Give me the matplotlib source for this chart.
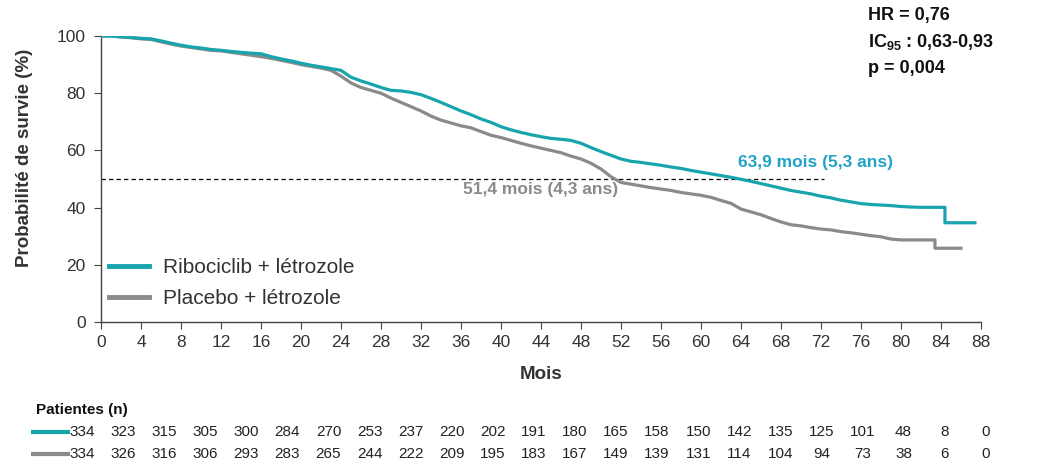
import matplotlib
matplotlib.use("Agg")
import matplotlib.pyplot as plt

plt.rcParams["font.family"] = ["Liberation Sans", "DejaVu Sans"]
plt.rcParams["mathtext.fontset"] = "custom"
plt.rcParams["mathtext.rm"] = "Liberation Sans"
plt.rcParams["mathtext.bf"] = "Liberation Sans:bold"

TEAL = "#17a4ad"
TEAL_TXT = "#22a3c4"
GRAY = "#8a8a8a"
TXT = "#333333"

# Kaplan-Meier readings (month, survival %)
ribo_months = [0, 1, 2, 3, 4, 5, 6, 7, 8, 9, 10, 11, 12, 13, 14, 15, 16, 17, 18, 19,
               20, 21, 22, 23, 24, 25, 26, 27, 28, 29, 30, 31, 32, 33, 34, 35, 36, 37,
               38, 39, 40, 41, 42, 43, 44, 45, 46, 47, 48, 49, 50, 51, 52, 53, 54, 55,
               56, 57, 58, 59, 60, 61, 62, 63, 64, 65, 66, 67, 68, 69, 70, 71, 72, 73,
               74, 75, 76, 77, 78, 79, 80, 81, 82, 83, 84.4, 84.4, 87.4]
ribo_surv = [100, 100, 99.7, 99.5, 99.2, 99.0, 98.3, 97.5, 96.8, 96.2, 95.8, 95.3, 95.0,
             94.6, 94.3, 94.0, 93.8, 92.8, 92.0, 91.3, 90.5, 89.8, 89.2, 88.6, 88.0,
             85.6, 84.3, 83.2, 82.0, 81.0, 80.8, 80.3, 79.5, 78.2, 76.8, 75.3, 73.8,
             72.5, 71.0, 69.8, 68.3, 67.2, 66.3, 65.5, 64.8, 64.2, 63.9, 63.5, 62.5,
             61.0, 59.6, 58.3, 57.0, 56.2, 55.8, 55.3, 54.8, 54.2, 53.7, 53.0, 52.4,
             51.8, 51.2, 50.6, 49.9, 49.2, 48.4, 47.6, 46.8, 46.0, 45.4, 44.8, 44.0,
             43.4, 42.6, 42.0, 41.4, 41.1, 40.9, 40.7, 40.4, 40.2, 40.1, 40.1, 40.1,
             34.7, 34.7]

plac_months = [0, 1, 2, 3, 4, 5, 6, 7, 8, 9, 10, 11, 12, 13, 14, 15, 16, 17, 18, 19,
               20, 21, 22, 23, 24, 25, 26, 27, 28, 29, 30, 31, 32, 33, 34, 35, 36, 37,
               38, 39, 40, 41, 42, 43, 44, 45, 46, 47, 48, 49, 50, 51, 52, 53, 54, 55,
               56, 57, 58, 59, 60, 61, 62, 63, 64, 65, 66, 67, 68, 69, 70, 71, 72, 73,
               74, 75, 76, 77, 78, 79, 80, 81, 82, 83.4, 83.4, 86]
plac_surv = [100, 100, 99.7, 99.4, 99.0, 98.8, 98.0, 97.2, 96.5, 96.0, 95.5, 95.0, 94.8,
             94.3, 93.8, 93.3, 92.8, 92.2, 91.5, 90.8, 90.0, 89.4, 88.8, 88.0, 86.0,
             83.6, 82.0, 81.0, 80.0, 78.3, 76.8, 75.3, 73.8, 72.0, 70.6, 69.6, 68.6,
             67.9, 66.6, 65.3, 64.5, 63.5, 62.5, 61.6, 60.8, 60.0, 59.2, 58.0, 57.0,
             55.5, 53.5, 50.8, 48.8, 48.2, 47.6, 47.0, 46.5, 46.0, 45.3, 44.8, 44.3,
             43.6, 42.5, 41.5, 39.5, 38.5, 37.5, 36.2, 35.0, 34.0, 33.6, 33.0, 32.5,
             32.2, 31.6, 31.2, 30.7, 30.2, 29.8, 29.0, 28.7, 28.7, 28.7, 28.7, 25.8,
             25.8]

risk_months = list(range(0, 89, 4))
ribo_risk = [334, 323, 315, 305, 300, 284, 270, 253, 237, 220, 202, 191, 180, 165, 158,
             150, 142, 135, 125, 101, 48, 8, 0]
plac_risk = [334, 326, 316, 306, 293, 283, 265, 244, 222, 209, 195, 183, 167, 149, 139,
             131, 114, 104, 94, 73, 38, 6, 0]

ribo_median = 63.9
plac_median = 51.4

fig = plt.figure(figsize=(10.42, 4.66), dpi=100)
ax = fig.add_axes([0.0969, 0.309, 0.8445, 0.6137])

ax.plot(ribo_months, ribo_surv, color=TEAL, lw=2.3, zorder=3,
        label="Ribociclib + létrozole")
ax.plot(plac_months, plac_surv, color=GRAY, lw=2.3, zorder=2,
        label="Placebo + létrozole")
ax.plot([0, 72.3], [50, 50], ls=(0, (3.5, 2.5)), color="black", lw=0.9, zorder=1)

ax.text(ribo_median - 0.2, 55.6, "63,9 mois (5,3 ans)", color=TEAL_TXT, fontsize=12.5,
        fontweight="bold", ha="left", va="center")
ax.text(plac_median + 0.3, 46.2, "51,4 mois (4,3 ans)", color=GRAY, fontsize=12.5,
        fontweight="bold", ha="right", va="center")

ax.set_xlim(0, 88)
ax.set_ylim(0, 100)
ax.set_xticks(range(0, 89, 4))
ax.set_yticks(range(0, 101, 20))
for s in ["top", "right"]:
    ax.spines[s].set_visible(False)
for s in ["left", "bottom"]:
    ax.spines[s].set_color("#444444")
    ax.spines[s].set_linewidth(1.0)
ax.tick_params(axis="x", direction="out", length=5, colors="#444444",
               labelcolor=TXT, labelsize=12.5, pad=4)
ax.tick_params(axis="y", direction="out", length=5, colors="#444444",
               labelcolor=TXT, labelsize=12.5, pad=6)
ax.set_xlabel("Mois", fontsize=13.5, fontweight="bold", color=TXT, labelpad=12)
ax.set_ylabel("Probabilité de survie (%)", fontsize=13.5, fontweight="bold",
              color=TXT)
ax.yaxis.set_label_coords(-0.077, 0.573)

leg = ax.legend(loc="lower left", bbox_to_anchor=(-0.012, -0.016), frameon=False,
                fontsize=15, handlelength=1.9, handletextpad=0.7,
                labelspacing=0.55, labelcolor=TXT)
for line in leg.get_lines():
    line.set_linewidth(3.5)

fig.text(0.833, 0.967, "HR = 0,76", fontsize=13, fontweight="bold", color="#111111",
         va="center")
fig.text(0.833, 0.91, r"$\mathbf{IC}_{\mathbf{95}}$ : 0,63-0,93", fontsize=13,
         fontweight="bold", color="#111111", va="center")
fig.text(0.833, 0.853, "p = 0,004", fontsize=13, fontweight="bold", color="#111111",
         va="center")

# Number at risk table
fig.text(0.035, 0.12, "Patientes (n)", fontsize=11, fontweight="bold", color="#111111",
         va="center")
trans = ax.get_xaxis_transform()
for row_y, color, values in [(-0.386, TEAL, ribo_risk), (-0.46, GRAY, plac_risk)]:
    ax.plot([-7.0, -3.1], [row_y, row_y], transform=trans, color=color, lw=3,
            clip_on=False, solid_capstyle="butt")
    for m, v in zip(risk_months, values):
        ax.text(m * 1.027 - 1.9, row_y, str(v), transform=trans, fontsize=11,
                color="#222222", ha="center", va="center",
                family=["Liberation Sans Narrow", "Liberation Sans"])

fig.savefig("out.png", dpi=100)
